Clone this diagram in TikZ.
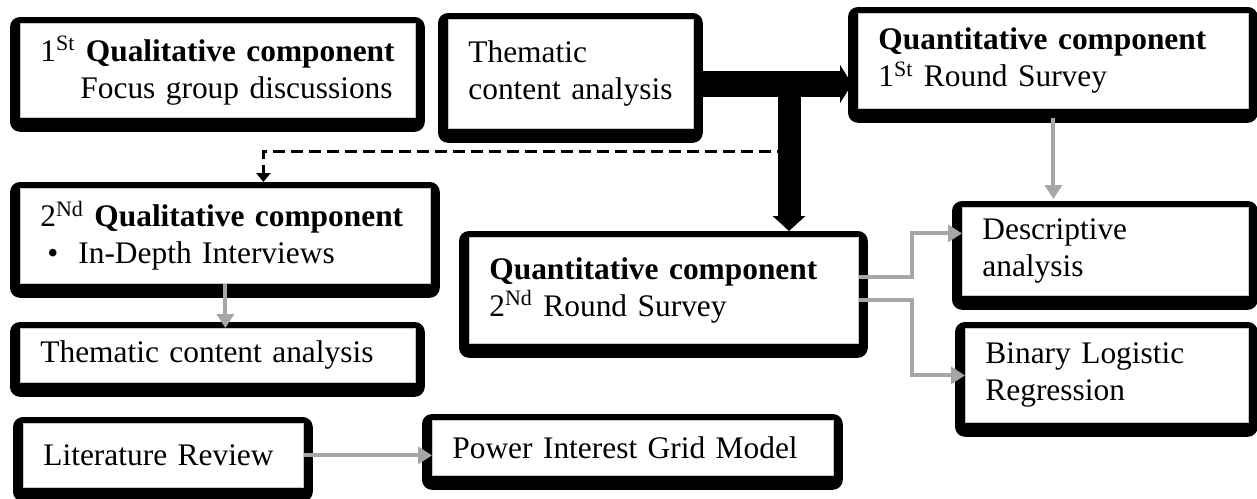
\documentclass[tikz,border=0pt]{standalone}
\usepackage{fontspec}
\setmainfont{Liberation Serif}
\usetikzlibrary{arrows.meta,backgrounds}
\definecolor{linkgray}{RGB}{166,166,166}

\begin{document}
\begin{tikzpicture}[x=0.5pt,y=-0.5pt,
  comp/.style={draw=gray!45,line width=0.4pt,fill=white,anchor=north west,align=left,
    inner xsep=10pt,inner ysep=2pt,font=\fontsize{15.7}{18.5}\selectfont},
  boxframe/.style={fill=black,rounded corners=5pt},
  thickflow/.style={line width=13pt,shorten >=3pt,-{Triangle[length=6pt,width=19pt]}},
  dashflow/.style={line width=1.5pt,dash pattern=on 6pt off 3pt,shorten >=3pt,
    -{Triangle[length=4.5pt,width=7pt]}},
  grayflow/.style={linkgray,line width=2pt,-{Triangle[length=7pt,width=8.5pt]}}]

  \useasboundingbox (0,0) rectangle (1257,498);

  \node[comp,text width=177.5pt,minimum height=47pt]   (qual_1) at (20,23)
    {1\textsuperscript{St} \textbf{Qualitative component}\\\hspace*{20pt}Focus group discussions};
  \node[comp,text width=102.5pt,minimum height=54.5pt] (them_1) at (448,19)
    {Thematic\\content analysis};
  \node[comp,text width=175pt,minimum height=47.5pt]   (quan_1) at (858,13)
    {\textbf{Quantitative component}\\1\textsuperscript{St} Round Survey};
  \node[comp,text width=185pt,minimum height=47.5pt]   (qual_2) at (20,188)
    {2\textsuperscript{Nd} \textbf{Qualitative component}\\\hspace*{3.5pt}\textbullet\hspace*{10pt}In-Depth Interviews};
  \node[comp,text width=177.5pt,minimum height=27pt]   (them_2) at (20,328)
    {Thematic content analysis};
  \node[comp,text width=174.5pt,minimum height=53pt]   (quan_2) at (469,237)
    {\textbf{Quantitative component}\\2\textsuperscript{Nd} Round Survey};
  \node[comp,text width=123pt,minimum height=44pt]     (desc) at (962,207)
    {Descriptive\\analysis};
  \node[comp,text width=121.5pt,minimum height=47pt]   (blr) at (965,328)
    {Binary Logistic\\Regression};
  \node[comp,text width=120pt,minimum height=32pt]     (lit) at (23,423)
    {Literature Review};
  \node[comp,text width=180.5pt,minimum height=27.5pt] (pig) at (432,420)
    {Power Interest Grid Model};

  % heavy frames behind the boxes
  \begin{scope}[on background layer]
    \fill[white] (0,0) rectangle (1257,498);
    \foreach \n in {qual_1,them_1,quan_1,qual_2,them_2,quan_2,desc,blr,lit,pig}
      \fill[boxframe] ([shift={(-5pt,-7pt)}]\n.south west) rectangle ([shift={(4.5pt,3pt)}]\n.north east);
  \end{scope}

  \coordinate (hub) at (789,84);
  \coordinate (split) at (789,151);

  \draw[dashflow] (split) -| ([xshift=19pt]qual_2.north);
  \draw[thickflow] (them_1.east |- hub) -- (quan_1.west |- hub);
  \draw[thickflow,line width=11.5pt,-{Triangle[length=7.5pt,width=16pt]}] (hub) -- (hub |- quan_2.north);

  \draw[grayflow,shorten <=4.5pt,shorten >=4pt] (quan_1.south) -- (quan_1.south |- desc.north);
  \draw[grayflow] (qual_2.south) -- (them_2.north -| qual_2.south);
  \draw[grayflow] ([yshift=6.5pt]quan_2.east) -- ++(53,0) |- ([yshift=9pt]desc.west);
  \draw[grayflow] ([yshift=-5pt]quan_2.east) -- ++(53,0) |- (blr.west);
  \draw[grayflow] (lit.east) -- (lit.east -| pig.west);
\end{tikzpicture}
\end{document}
